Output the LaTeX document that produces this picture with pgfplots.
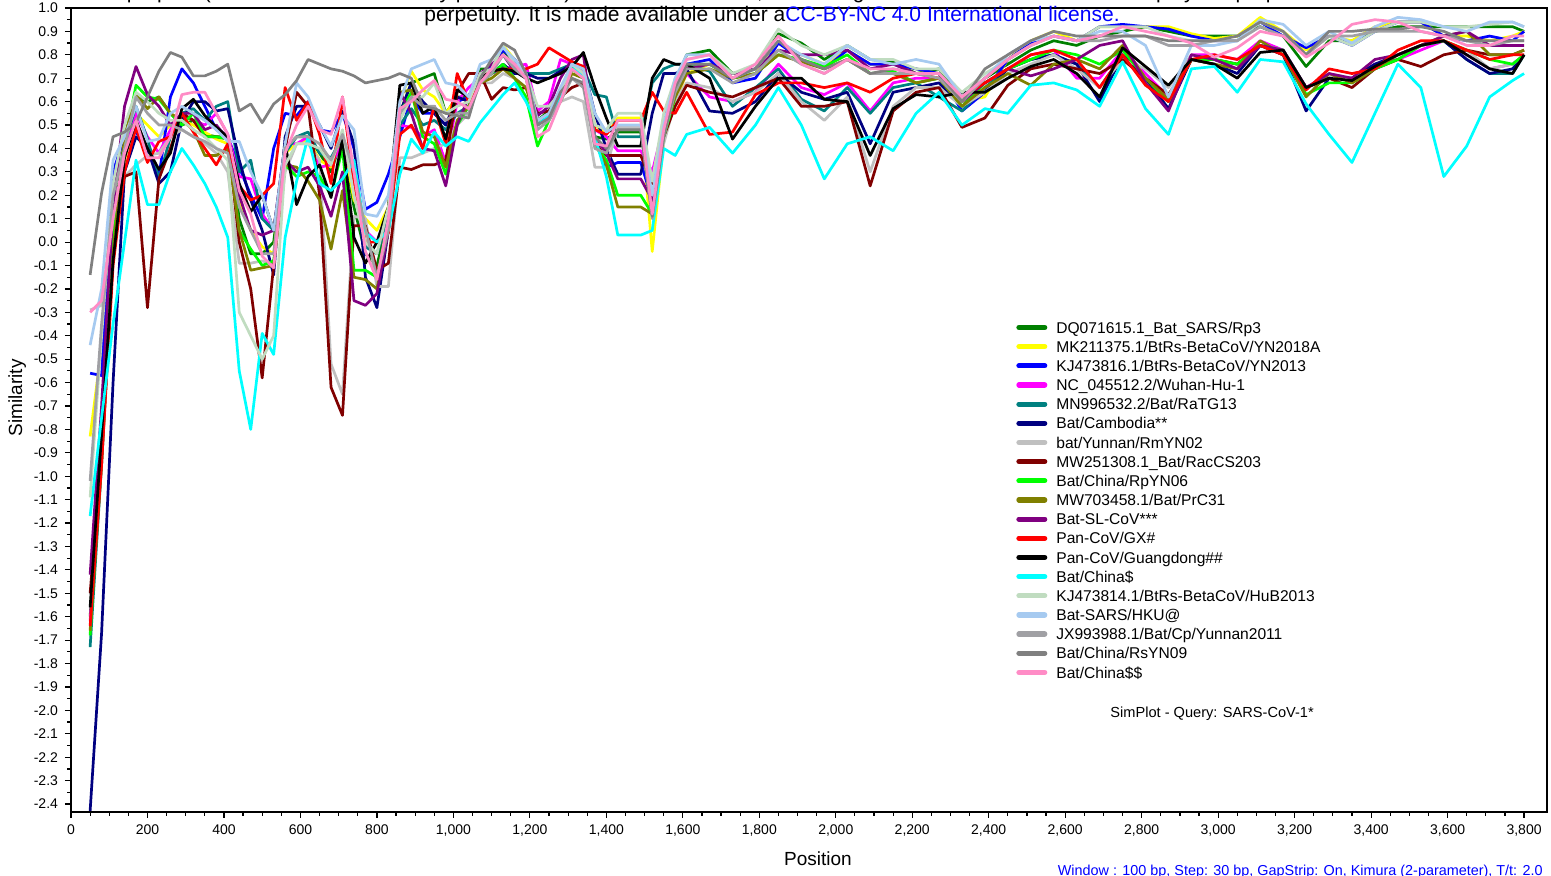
\documentclass[border=0pt]{standalone}
\usepackage{fontspec}
\setmainfont{Liberation Sans}
\usepackage{pgfplots}
\usepackage{pgfplotstable}
\pgfplotsset{compat=1.18}

\definecolor{cDQ}{HTML}{008000}
\definecolor{cMK}{HTML}{FFFF00}
\definecolor{cKJ}{HTML}{0000FF}
\definecolor{cNC}{HTML}{FF00FF}
\definecolor{cMN}{HTML}{008080}
\definecolor{cCam}{HTML}{000080}
\definecolor{cRm}{HTML}{C0C0C0}
\definecolor{cMW}{HTML}{800000}
\definecolor{cRp}{HTML}{00FF00}
\definecolor{cPr}{HTML}{808000}
\definecolor{cSL}{HTML}{800080}
\definecolor{cGX}{HTML}{FF0000}
\definecolor{cGD}{HTML}{000000}
\definecolor{cCn}{HTML}{00FFFF}
\definecolor{cHu}{HTML}{C0DCC0}
\definecolor{cHK}{HTML}{A6CAF0}
\definecolor{cJX}{HTML}{A0A0A4}
\definecolor{cRs}{HTML}{808080}
\definecolor{cCC}{HTML}{FF8CC6}
\definecolor{noteblue}{HTML}{0000FF}

\pgfplotstableread{
x dq mk kj nc mn cam rm mw rp pr sl gx gd cn hu hk jx rs cc
50 -1.60 -0.83 -0.56 -1.62 -1.73 -2.43 -0.29 -1.50 -1.68 -1.66 -1.42 -1.64 -1.56 -1.17 -1.09 -0.44 -1.02 -0.14 -0.30
80 -0.80 -0.45 -0.57 -0.85 -0.95 -1.67 -0.27 -0.90 -0.90 -0.95 -0.70 -0.95 -0.82 -0.75 -0.40 -0.20 -0.35 0.21 -0.25
110 0.05 0.05 0.30 0.00 -0.05 -0.60 0.10 0.00 0.00 -0.05 0.15 -0.10 -0.08 -0.35 0.25 0.35 0.20 0.45 0.10
140 0.45 0.35 0.45 0.40 0.42 0.30 0.28 0.28 0.42 0.45 0.58 0.30 0.36 0.00 0.50 0.45 0.40 0.47 0.38
170 0.62 0.55 0.47 0.55 0.58 0.45 0.33 0.30 0.67 0.63 0.75 0.49 0.52 0.35 0.64 0.58 0.62 0.51 0.52
200 0.60 0.50 0.40 0.45 0.44 0.40 0.37 -0.28 0.62 0.57 0.63 0.34 0.40 0.16 0.60 0.43 0.55 0.62 0.36
230 0.62 0.45 0.28 0.38 0.27 0.25 0.38 0.27 0.61 0.62 0.58 0.43 0.31 0.16 0.55 0.44 0.50 0.73 0.36
260 0.55 0.50 0.62 0.48 0.45 0.30 0.45 0.40 0.55 0.55 0.50 0.45 0.38 0.30 0.52 0.55 0.50 0.81 0.45
290 0.50 0.52 0.74 0.55 0.55 0.52 0.48 0.55 0.50 0.52 0.55 0.55 0.57 0.40 0.52 0.58 0.48 0.79 0.63
320 0.52 0.50 0.68 0.52 0.57 0.60 0.45 0.52 0.55 0.48 0.55 0.47 0.61 0.33 0.48 0.55 0.45 0.71 0.64
350 0.46 0.47 0.58 0.50 0.52 0.60 0.42 0.45 0.45 0.37 0.48 0.40 0.54 0.25 0.45 0.52 0.43 0.71 0.64
380 0.45 0.44 0.48 0.55 0.58 0.56 0.38 0.45 0.45 0.37 0.50 0.33 0.49 0.15 0.40 0.48 0.40 0.73 0.55
410 0.45 0.42 0.45 0.46 0.60 0.57 0.30 0.44 0.44 0.40 0.44 0.42 0.45 0.02 0.35 0.43 0.38 0.76 0.46
440 0.10 0.18 0.32 0.28 0.30 0.35 -0.09 0.00 0.05 0.05 0.20 0.24 0.25 -0.55 -0.30 0.43 0.15 0.56 0.22
470 -0.05 0.05 0.20 0.27 0.35 0.18 -0.09 -0.20 -0.03 -0.12 0.05 0.18 0.13 -0.80 -0.40 0.30 0.05 0.59 0.12
500 -0.05 -0.02 0.10 0.12 0.10 0.05 -0.08 -0.58 -0.10 -0.11 0.03 0.20 0.20 -0.39 -0.50 0.20 -0.05 0.51 -0.06
530 0.00 -0.05 0.40 0.05 0.05 -0.14 -0.10 -0.10 -0.08 -0.10 0.05 0.25 0.05 -0.48 -0.40 0.05 -0.05 0.59 -0.11
560 0.40 0.38 0.55 0.42 0.38 0.45 0.30 0.40 0.33 0.33 0.35 0.66 0.42 0.02 0.33 0.42 0.40 0.63 0.38
590 0.45 0.42 0.54 0.42 0.45 0.58 0.42 0.64 0.28 0.32 0.30 0.52 0.16 0.26 0.42 0.68 0.45 0.69 0.50
620 0.45 0.44 0.60 0.45 0.47 0.58 0.42 0.58 0.30 0.26 0.32 0.60 0.28 0.45 0.42 0.62 0.45 0.78 0.58
650 0.38 0.35 0.48 0.32 0.38 0.50 0.35 0.20 0.28 0.18 0.24 0.46 0.33 0.25 0.40 0.50 0.42 0.76 0.48
680 0.30 0.32 0.47 0.33 0.36 0.40 -0.52 -0.62 0.20 -0.03 0.11 0.25 0.19 0.22 0.33 0.41 0.35 0.74 0.46
710 0.45 0.45 0.55 0.42 0.45 0.56 -0.65 -0.74 0.40 0.22 0.30 0.62 0.44 0.27 0.48 0.54 0.46 0.73 0.62
740 0.15 0.18 0.40 0.25 0.30 0.42 0.11 0.07 -0.12 -0.15 -0.25 0.25 0.02 0.35 0.20 0.48 0.30 0.71 0.30
770 -0.05 0.10 0.14 0.05 -0.02 -0.15 0.10 0.07 -0.12 -0.16 -0.27 0.00 -0.09 0.04 0.00 0.12 0.06 0.68 -0.04
800 -0.10 0.05 0.17 0.00 -0.05 -0.28 -0.19 -0.12 -0.15 -0.20 -0.22 0.00 0.00 0.00 -0.05 0.11 -0.15 0.69 -0.16
830 0.10 0.15 0.29 0.10 0.10 0.05 -0.19 -0.09 0.05 0.05 0.05 0.04 0.15 0.05 0.15 0.20 0.05 0.70 0.10
860 0.55 0.60 0.45 0.50 0.50 0.55 0.36 0.32 0.55 0.64 0.64 0.46 0.67 0.29 0.52 0.60 0.55 0.72 0.57
890 0.68 0.73 0.62 0.49 0.57 0.68 0.36 0.31 0.64 0.65 0.55 0.50 0.68 0.44 0.62 0.74 0.62 0.70 0.60
920 0.70 0.65 0.55 0.45 0.50 0.60 0.38 0.33 0.45 0.47 0.40 0.40 0.55 0.38 0.62 0.76 0.58 0.58 0.65
950 0.72 0.62 0.55 0.48 0.52 0.55 0.40 0.33 0.42 0.45 0.39 0.58 0.58 0.47 0.68 0.78 0.58 0.57 0.69
980 0.55 0.55 0.50 0.34 0.48 0.50 0.42 0.35 0.29 0.32 0.24 0.42 0.44 0.41 0.55 0.68 0.52 0.55 0.61
1010 0.62 0.62 0.60 0.60 0.55 0.62 0.50 0.64 0.50 0.52 0.50 0.72 0.65 0.45 0.58 0.67 0.55 0.54 0.60
1040 0.62 0.60 0.62 0.66 0.58 0.60 0.55 0.72 0.58 0.58 0.62 0.60 0.62 0.43 0.60 0.62 0.55 0.53 0.57
1070 0.74 0.72 0.72 0.70 0.68 0.70 0.68 0.72 0.70 0.68 0.72 0.70 0.70 0.51 0.72 0.76 0.68 0.70 0.68
1100 0.74 0.74 0.75 0.72 0.72 0.72 0.68 0.61 0.72 0.70 0.76 0.73 0.73 0.57 0.74 0.78 0.72 0.78 0.74
1130 0.82 0.84 0.82 0.74 0.75 0.76 0.72 0.66 0.76 0.74 0.80 0.74 0.74 0.63 0.84 0.83 0.80 0.85 0.80
1160 0.76 0.78 0.78 0.75 0.72 0.72 0.70 0.65 0.70 0.70 0.73 0.74 0.73 0.68 0.76 0.78 0.74 0.82 0.76
1190 0.72 0.70 0.72 0.76 0.72 0.72 0.66 0.66 0.62 0.66 0.70 0.74 0.70 0.60 0.72 0.72 0.70 0.72 0.70
1220 0.52 0.50 0.50 0.56 0.72 0.70 0.52 0.55 0.41 0.50 0.54 0.76 0.68 0.50 0.58 0.52 0.48 0.50 0.45
1250 0.56 0.55 0.54 0.60 0.72 0.70 0.55 0.56 0.52 0.53 0.58 0.83 0.70 0.54 0.58 0.55 0.52 0.53 0.48
1280 0.65 0.62 0.62 0.78 0.74 0.73 0.60 0.62 0.62 0.60 0.70 0.80 0.72 0.61 0.64 0.66 0.60 0.64 0.60
1310 0.76 0.76 0.74 0.76 0.76 0.76 0.62 0.66 0.74 0.72 0.78 0.77 0.75 0.76 0.76 0.76 0.70 0.70 0.74
1340 0.72 0.72 0.72 0.72 0.74 0.75 0.60 0.68 0.70 0.70 0.80 0.75 0.81 0.70 0.72 0.74 0.66 0.68 0.70
1370 0.45 0.50 0.45 0.48 0.63 0.55 0.32 0.42 0.42 0.42 0.45 0.48 0.66 0.45 0.50 0.55 0.40 0.45 0.42
1400 0.44 0.46 0.32 0.45 0.62 0.40 0.32 0.37 0.35 0.33 0.38 0.46 0.53 0.28 0.48 0.47 0.38 0.40 0.41
1430 0.47 0.53 0.34 0.39 0.45 0.29 0.49 0.37 0.20 0.15 0.27 0.52 0.41 0.03 0.55 0.50 0.48 0.48 0.52
1460 0.47 0.53 0.34 0.39 0.45 0.29 0.49 0.37 0.20 0.15 0.27 0.52 0.41 0.03 0.55 0.50 0.48 0.48 0.52
1490 0.47 0.53 0.34 0.39 0.45 0.29 0.49 0.37 0.20 0.15 0.27 0.52 0.41 0.03 0.55 0.50 0.48 0.48 0.52
1520 0.15 -0.04 0.18 0.30 0.68 0.55 0.18 0.25 0.12 0.12 0.18 0.64 0.70 0.05 0.26 0.20 0.10 0.11 0.12
1550 0.50 0.43 0.48 0.50 0.74 0.72 0.42 0.45 0.45 0.48 0.50 0.56 0.78 0.40 0.55 0.50 0.45 0.45 0.48
1580 0.68 0.60 0.65 0.62 0.76 0.72 0.60 0.58 0.62 0.62 0.66 0.55 0.76 0.37 0.70 0.70 0.64 0.66 0.68
1610 0.80 0.72 0.76 0.72 0.76 0.74 0.68 0.67 0.76 0.72 0.74 0.64 0.76 0.46 0.78 0.80 0.74 0.76 0.78
1670 0.82 0.76 0.78 0.62 0.73 0.56 0.66 0.64 0.76 0.74 0.76 0.46 0.70 0.49 0.80 0.80 0.74 0.76 0.80
1730 0.72 0.70 0.68 0.60 0.58 0.55 0.60 0.62 0.70 0.70 0.72 0.47 0.44 0.38 0.72 0.70 0.68 0.70 0.70
1790 0.74 0.72 0.70 0.64 0.66 0.60 0.64 0.66 0.72 0.72 0.74 0.63 0.58 0.50 0.76 0.74 0.72 0.74 0.76
1850 0.89 0.85 0.85 0.76 0.74 0.72 0.72 0.70 0.80 0.80 0.82 0.68 0.70 0.66 0.91 0.86 0.82 0.86 0.88
1910 0.85 0.80 0.78 0.66 0.61 0.64 0.60 0.58 0.78 0.77 0.80 0.68 0.70 0.50 0.84 0.80 0.76 0.78 0.76
1970 0.78 0.76 0.74 0.63 0.56 0.61 0.52 0.58 0.75 0.74 0.80 0.66 0.61 0.27 0.80 0.76 0.72 0.74 0.72
2030 0.84 0.82 0.82 0.68 0.66 0.64 0.62 0.60 0.80 0.78 0.82 0.68 0.60 0.42 0.84 0.84 0.78 0.78 0.78
2090 0.78 0.76 0.76 0.56 0.55 0.42 0.30 0.24 0.72 0.72 0.74 0.64 0.37 0.45 0.78 0.78 0.72 0.72 0.74
2150 0.77 0.76 0.76 0.68 0.66 0.64 0.58 0.56 0.73 0.72 0.76 0.70 0.57 0.39 0.78 0.76 0.72 0.74 0.74
2210 0.72 0.74 0.74 0.70 0.68 0.66 0.66 0.64 0.68 0.68 0.72 0.72 0.63 0.55 0.74 0.78 0.72 0.72 0.72
2270 0.74 0.72 0.72 0.70 0.62 0.68 0.66 0.66 0.70 0.70 0.72 0.70 0.62 0.64 0.74 0.76 0.70 0.72 0.72
2330 0.62 0.60 0.56 0.60 0.56 0.58 0.58 0.49 0.58 0.58 0.60 0.62 0.64 0.50 0.64 0.62 0.60 0.60 0.62
2390 0.70 0.62 0.64 0.68 0.66 0.64 0.64 0.53 0.68 0.66 0.68 0.68 0.64 0.57 0.72 0.70 0.70 0.74 0.70
2450 0.76 0.78 0.78 0.74 0.74 0.74 0.72 0.67 0.74 0.72 0.74 0.74 0.70 0.55 0.78 0.80 0.78 0.80 0.78
2510 0.82 0.86 0.85 0.80 0.78 0.78 0.76 0.74 0.78 0.67 0.71 0.80 0.75 0.67 0.84 0.86 0.84 0.86 0.84
2570 0.86 0.90 0.88 0.82 0.80 0.80 0.80 0.76 0.82 0.76 0.74 0.82 0.78 0.68 0.88 0.88 0.88 0.90 0.88
2630 0.84 0.86 0.86 0.70 0.76 0.76 0.74 0.74 0.80 0.78 0.78 0.78 0.72 0.65 0.86 0.86 0.86 0.88 0.86
2690 0.88 0.92 0.92 0.70 0.66 0.60 0.66 0.72 0.76 0.74 0.84 0.66 0.62 0.58 0.92 0.90 0.86 0.88 0.88
2750 0.90 0.92 0.93 0.82 0.80 0.80 0.78 0.78 0.82 0.84 0.86 0.80 0.83 0.77 0.92 0.90 0.88 0.88 0.92
2810 0.92 0.92 0.92 0.72 0.70 0.70 0.74 0.70 0.70 0.70 0.68 0.67 0.75 0.57 0.92 0.84 0.88 0.88 0.90
2870 0.90 0.92 0.91 0.62 0.60 0.57 0.66 0.63 0.60 0.61 0.56 0.60 0.67 0.46 0.88 0.62 0.84 0.86 0.88
2930 0.88 0.89 0.88 0.80 0.78 0.78 0.80 0.78 0.78 0.78 0.80 0.78 0.78 0.74 0.86 0.84 0.84 0.86 0.85
2990 0.88 0.87 0.86 0.80 0.78 0.76 0.78 0.78 0.78 0.76 0.78 0.80 0.76 0.75 0.86 0.84 0.86 0.86 0.79
3050 0.88 0.88 0.86 0.78 0.76 0.72 0.76 0.76 0.76 0.74 0.74 0.78 0.70 0.64 0.86 0.86 0.86 0.88 0.83
3110 0.92 0.96 0.94 0.86 0.84 0.84 0.84 0.84 0.84 0.86 0.84 0.84 0.81 0.78 0.94 0.95 0.92 0.94 0.90
3170 0.88 0.90 0.88 0.82 0.82 0.80 0.82 0.80 0.82 0.80 0.82 0.80 0.82 0.77 0.90 0.93 0.88 0.90 0.88
3230 0.75 0.82 0.83 0.66 0.66 0.56 0.66 0.66 0.63 0.62 0.66 0.65 0.66 0.59 0.80 0.84 0.80 0.80 0.79
3290 0.86 0.88 0.88 0.70 0.70 0.70 0.70 0.70 0.68 0.72 0.72 0.74 0.70 0.46 0.88 0.90 0.88 0.90 0.85
3350 0.86 0.86 0.84 0.70 0.70 0.70 0.70 0.66 0.68 0.68 0.70 0.72 0.69 0.34 0.84 0.85 0.88 0.90 0.93
3410 0.90 0.92 0.90 0.76 0.76 0.76 0.74 0.74 0.74 0.74 0.78 0.74 0.75 0.55 0.90 0.92 0.90 0.91 0.95
3470 0.92 0.94 0.94 0.78 0.78 0.80 0.78 0.78 0.78 0.80 0.80 0.82 0.80 0.76 0.94 0.96 0.90 0.91 0.94
3530 0.92 0.94 0.94 0.82 0.84 0.84 0.84 0.75 0.84 0.84 0.84 0.86 0.84 0.66 0.94 0.95 0.90 0.92 0.90
3590 0.92 0.88 0.88 0.86 0.86 0.86 0.86 0.80 0.86 0.88 0.88 0.86 0.86 0.28 0.92 0.92 0.88 0.90 0.88
3650 0.92 0.88 0.86 0.80 0.78 0.78 0.82 0.82 0.82 0.90 0.90 0.82 0.80 0.41 0.92 0.90 0.86 0.86 0.84
3710 0.92 0.86 0.88 0.74 0.72 0.72 0.74 0.80 0.78 0.80 0.84 0.78 0.74 0.62 0.93 0.94 0.84 0.86 0.84
3770 0.92 0.88 0.86 0.76 0.72 0.74 0.76 0.80 0.76 0.80 0.84 0.80 0.72 0.69 0.94 0.94 0.86 0.86 0.88
3800 0.90 0.90 0.90 0.80 0.80 0.80 0.80 0.82 0.80 0.82 0.84 0.80 0.80 0.72 0.92 0.92 0.86 0.86 0.88
}\simdata

\begin{document}
\begin{tikzpicture}
\useasboundingbox (0,0) rectangle (775.5pt,438pt);
\begin{axis}[
  name=ax,
  at={(35.5pt,32pt)}, anchor=south west,
  width=738pt, height=402pt, scale only axis,
  xmin=0, xmax=3860, ymin=-2.434, ymax=1.0,
  xtick={0,200,...,3800}, minor x tick num=3,
  ytick={-2.4,-2.3,-2.2,-2.1,-2.0,-1.9,-1.8,-1.7,-1.6,-1.5,-1.4,-1.3,-1.2,-1.1,-1.0,-0.9,-0.8,-0.7,-0.6,-0.5,-0.4,-0.3,-0.2,-0.1,0,0.1,0.2,0.3,0.4,0.5,0.6,0.7,0.8,0.9,1.0},
  minor y tick num=1,
  tick align=outside, xtick pos=bottom, ytick pos=left,
  major tick length=3pt, minor tick length=1.8pt,
  every tick/.style={black, line width=0.6pt},
  axis line style={line width=0.6pt},
  tick label style={font=\fontsize{7}{8}\selectfont},
  xticklabel style={/pgf/number format/.cd, 1000 sep={,}, assume math mode=true},
  yticklabel style={/pgf/number format/.cd, fixed, fixed zerofill, precision=1, assume math mode=true},
  scaled x ticks=false, scaled y ticks=false,
  legend style={at={(0.6402,0.615)}, anchor=north west, draw=none, fill=none,
    inner sep=0pt, row sep=0pt, column sep=4.5pt,
    font=\fontsize{7.8}{8.5}\selectfont,
    nodes={inner sep=0pt, text height=7.6pt, text depth=1.98pt}},
  legend cell align=left,
  legend image code/.code={\draw[#1, line width=2.6pt, line cap=round] (1.3pt,0pt) -- (14.2pt,0pt);},
  every axis plot/.append style={line width=1.35pt, line join=round},
  no markers,
]
\addplot[draw=cDQ] table[x=x,y=dq] {\simdata}; \addlegendentry{DQ071615.1\_Bat\_SARS/Rp3}
\addplot[draw=cMK] table[x=x,y=mk] {\simdata}; \addlegendentry{MK211375.1/BtRs-BetaCoV/YN2018A}
\addplot[draw=cKJ] table[x=x,y=kj] {\simdata}; \addlegendentry{KJ473816.1/BtRs-BetaCoV/YN2013}
\addplot[draw=cNC] table[x=x,y=nc] {\simdata}; \addlegendentry{NC\_045512.2/Wuhan-Hu-1}
\addplot[draw=cMN] table[x=x,y=mn] {\simdata}; \addlegendentry{MN996532.2/Bat/RaTG13}
\addplot[draw=cCam] table[x=x,y=cam] {\simdata}; \addlegendentry{Bat/Cambodia**}
\addplot[draw=cRm] table[x=x,y=rm] {\simdata}; \addlegendentry{bat/Yunnan/RmYN02}
\addplot[draw=cMW] table[x=x,y=mw] {\simdata}; \addlegendentry{MW251308.1\_Bat/RacCS203}
\addplot[draw=cRp] table[x=x,y=rp] {\simdata}; \addlegendentry{Bat/China/RpYN06}
\addplot[draw=cPr] table[x=x,y=pr] {\simdata}; \addlegendentry{MW703458.1/Bat/PrC31}
\addplot[draw=cSL] table[x=x,y=sl] {\simdata}; \addlegendentry{Bat-SL-CoV***}
\addplot[draw=cGX] table[x=x,y=gx] {\simdata}; \addlegendentry{Pan-CoV/GX\#}
\addplot[draw=cGD] table[x=x,y=gd] {\simdata}; \addlegendentry{Pan-CoV/Guangdong\#\#}
\addplot[draw=cCn] table[x=x,y=cn] {\simdata}; \addlegendentry{Bat/China\$}
\addplot[draw=cHu] table[x=x,y=hu] {\simdata}; \addlegendentry{KJ473814.1/BtRs-BetaCoV/HuB2013}
\addplot[draw=cHK] table[x=x,y=hk] {\simdata}; \addlegendentry{Bat-SARS/HKU@}
\addplot[draw=cJX] table[x=x,y=jx] {\simdata}; \addlegendentry{JX993988.1/Bat/Cp/Yunnan2011}
\addplot[draw=cRs] table[x=x,y=rs] {\simdata}; \addlegendentry{Bat/China/RsYN09}
\addplot[draw=cCC] table[x=x,y=cc] {\simdata}; \addlegendentry{Bat/China\$\$}
\end{axis}
\draw[line width=1.3pt] (ax.north west) -- (ax.south west) -- (ax.south east);
\node[anchor=base, inner sep=0pt, font=\fontsize{10.5}{12}\selectfont] at (364pt,438.5pt) {preprint (which was not certified by peer review) is the author/funder, who has granted medRxiv a license to display the preprint in};
\node[anchor=base, inner sep=0pt, font=\fontsize{10.5}{12}\selectfont] at (386pt,427pt) {perpetuity. It is made available under a\textcolor{noteblue}{CC-BY-NC 4.0 International license.}};
\node[anchor=base, font=\fontsize{9.5}{11}\selectfont] at (409pt,5pt) {Position};
\node[anchor=base, rotate=90, font=\fontsize{9.5}{11}\selectfont] at (11pt,239pt) {Similarity};
\node[anchor=base west, inner sep=0pt, font=\fontsize{7.3}{8}\selectfont] at (555pt,79pt) {SimPlot - Query: SARS-CoV-1*};
\node[anchor=base east, inner sep=0pt, text=noteblue, font=\fontsize{7.2}{8}\selectfont] at (771.5pt,0pt) {Window : 100 bp, Step: 30 bp, GapStrip: On, Kimura (2-parameter), T/t: 2.0};
\end{tikzpicture}
\end{document}
